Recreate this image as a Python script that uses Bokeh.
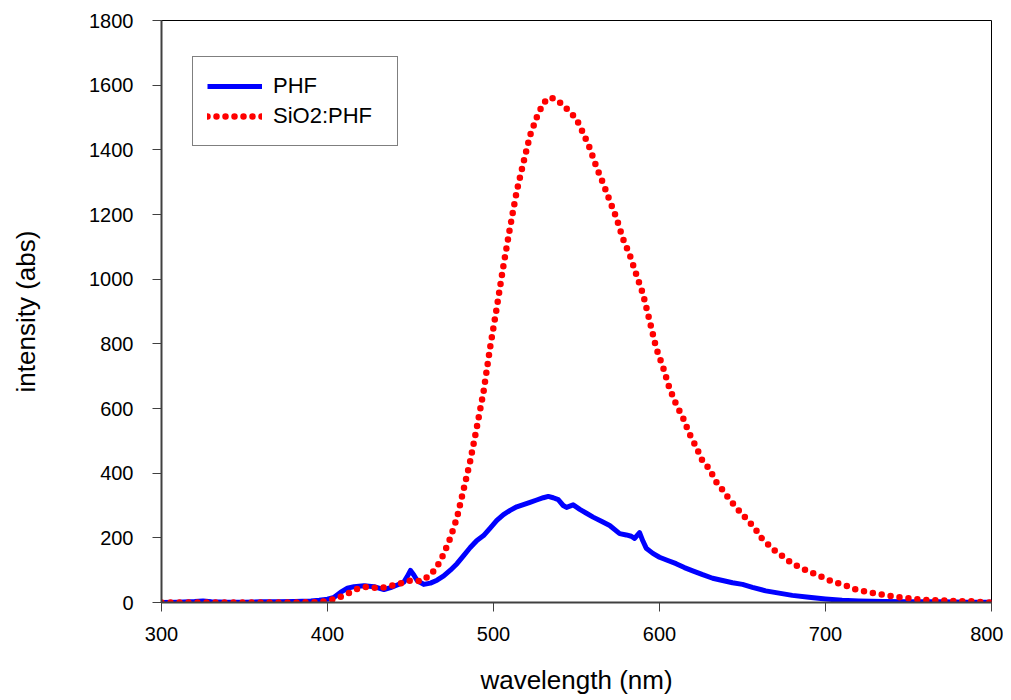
from bokeh.plotting import figure
from bokeh.models import Range1d, Legend, LegendItem, FixedTicker
from bokeh.embed import file_html
from bokeh.resources import INLINE

# PHF spectrum (blue solid line)
phf_wl = [300, 310, 320, 325, 330, 340, 350, 360, 370, 380, 390, 395, 400, 404, 408, 412,
          416, 422, 428, 434, 438, 442, 446, 448, 450, 452, 454, 458, 462, 466, 470, 474,
          478, 482, 486, 490, 494, 498, 502, 506, 510, 514, 518, 522, 526, 530, 533, 536,
          539, 542, 544, 546, 548, 552, 556, 560, 565, 570, 576, 580, 583, 585, 588, 590,
          592, 596, 600, 605, 610, 615, 620, 626, 632, 638, 644, 650, 656, 664, 672, 680,
          690, 700, 710, 720, 735, 750, 770, 785, 800]
phf_val = [0, 1, 3, 5, 2, 1, 1, 2, 2, 3, 5, 7, 10, 16, 32, 44,
           49, 52, 49, 40, 46, 54, 63, 80, 99, 85, 68, 56, 60, 69, 82, 100,
           120, 145, 170, 192, 207, 230, 254, 272, 285, 296, 303, 310, 317, 324, 328, 324,
           318, 300, 294, 298, 302, 288, 276, 264, 251, 238, 213, 209, 205, 198, 216, 190,
           168, 152, 140, 130, 120, 108, 98, 86, 75, 68, 61, 56, 47, 36, 29, 22,
           16, 11, 7, 5, 3, 2, 2, 1, 1]

# SiO2:PHF spectrum (red dotted line)
sio2_wl = [300, 320, 340, 360, 380, 392, 399, 406, 412, 418, 424, 431, 437, 443, 450, 456,
           462, 466, 470, 474, 478, 482, 486, 490, 494, 498, 502, 506, 510, 514, 518, 522,
           526, 530, 534, 538, 542, 546, 550, 554, 558, 562, 566, 570, 574, 578, 582, 586,
           590, 594, 598, 602, 606, 610, 614, 618, 622, 626, 630, 634, 638, 642, 646, 650,
           654, 658, 662, 666, 670, 675, 680, 685, 690, 695, 700, 705, 712, 718, 724, 731,
           738, 745, 752, 759, 766, 773, 780, 787, 794, 800]
sio2_val = [0, 0, 0, 0, 0, 1, 4, 13, 27, 42, 49, 44, 50, 58, 68, 66,
            85, 111, 150, 200, 262, 350, 438, 543, 652, 790, 913, 1042, 1161, 1272, 1360, 1444,
            1500, 1545, 1562, 1556, 1537, 1518, 1495, 1452, 1405, 1347, 1297, 1243, 1190, 1125, 1076, 1015,
            955, 872, 787, 730, 663, 613, 573, 522, 482, 437, 414, 374, 348, 320, 295, 272,
            250, 225, 196, 177, 158, 140, 120, 108, 96, 85, 74, 63, 53, 41, 34, 27,
            21, 16, 12, 8, 7, 6, 4, 4, 1, 0]

x_ticks = [300, 400, 500, 600, 700, 800]
y_ticks = [0, 200, 400, 600, 800, 1000, 1200, 1400, 1600, 1800]

FONT = "Liberation Sans"

p = figure(width=1003, height=700, output_backend="svg", toolbar_location=None,
           x_range=Range1d(300, 800), y_range=Range1d(0, 1800),
           min_border_left=161, min_border_right=12, min_border_top=20, min_border_bottom=98)

p.grid.visible = False
p.outline_line_color = "black"
p.outline_line_width = 1

for ax in (p.xaxis[0], p.yaxis[0]):
    ax.axis_line_color = "#404040"
    ax.axis_line_width = 2
    ax.major_tick_line_color = "#404040"
    ax.major_tick_line_width = 1
    ax.major_tick_in = 0
    ax.major_tick_out = 9
    ax.minor_tick_line_color = None
    ax.major_label_text_font = FONT
    ax.major_label_text_font_size = "20px"
    ax.major_label_text_color = "black"
    ax.axis_label_text_font = FONT
    ax.axis_label_text_font_size = "26px"
    ax.axis_label_text_font_style = "normal"
    ax.axis_label_text_color = "black"

p.xaxis.ticker = FixedTicker(ticks=x_ticks)
p.yaxis.ticker = FixedTicker(ticks=y_ticks)
p.xaxis.axis_label = "wavelength (nm)"
p.yaxis.axis_label = "intensity (abs)"
p.xaxis.major_label_standoff = 15
p.yaxis.major_label_standoff = 19
p.xaxis.axis_label_standoff = 21
p.yaxis.axis_label_standoff = 45

r1 = p.line(phf_wl, phf_val, line_color="#0000FF", line_width=5, line_join="round")
r2 = p.line(sio2_wl, sio2_val, line_color="#FF0000", line_width=6.5,
            line_dash="0 9", line_cap="round")

legend = Legend(items=[LegendItem(label="PHF", renderers=[r1]),
                       LegendItem(label="SiO2:PHF", renderers=[r2])],
                location=(31, 456))
legend.label_text_font = FONT
legend.label_text_font_size = "22px"
legend.label_text_color = "black"
legend.glyph_width = 55
legend.glyph_height = 30
legend.label_height = 30
legend.label_width = 110
legend.label_standoff = 11
legend.spacing = 0
legend.padding = 14
legend.margin = 0
legend.border_line_color = "black"
legend.border_line_width = 1
legend.background_fill_color = "white"
legend.background_fill_alpha = 1
p.add_layout(legend, "center")

open("out.html", "w").write(file_html(p, INLINE))
